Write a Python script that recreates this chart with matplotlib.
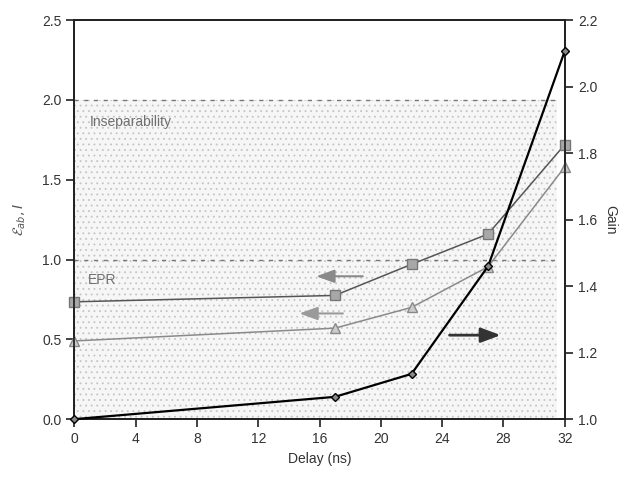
import matplotlib
matplotlib.use("Agg")
import matplotlib.pyplot as plt

plt.rcParams["font.family"] = ["Liberation Sans", "DejaVu Sans"]
plt.rcParams["hatch.linewidth"] = 0.6

# ---------------- DATA ----------------
delay = [0, 17, 22, 27, 32]
ent_sq = [0.735, 0.775, 0.97, 1.16, 1.72]      # squares, left axis
ent_tri = [0.49, 0.57, 0.70, 0.955, 1.58]      # triangles, left axis
gain = [1.0, 1.067, 1.136, 1.46, 2.107]        # diamonds, right axis

x_ticks = [0, 4, 8, 12, 16, 20, 24, 28, 32]
left_ticks = [0.0, 0.5, 1.0, 1.5, 2.0, 2.5]
right_ticks = [1.0, 1.2, 1.4, 1.6, 1.8, 2.0, 2.2]

insep_level = 2.0
epr_level = 1.0

# ---------------- FIGURE ----------------
fig = plt.figure(figsize=(6.31, 4.79), dpi=100)
ax = fig.add_axes([0.118, 0.125, 0.777, 0.833])
ax2 = ax.twinx()

# stippled region below the inseparability bound
ax.fill_between([0, 31.5], 0, insep_level, facecolor="#f6f6f6",
                edgecolor="#c4c4c4", hatch="...", linewidth=0, zorder=0)

ax.plot([0, 31.5], [insep_level, insep_level], ls=(0, (3, 4)), color="#777777", lw=1.0)
ax.plot([0, 31.5], [epr_level, epr_level], ls=(0, (3, 4)), color="#777777", lw=1.0)

ax.text(1.0, 1.86, "Inseparability", color="#6f6f6f", fontsize=10, va="center")
ax.text(0.9, 0.87, "EPR", color="#6f6f6f", fontsize=10, va="center")

ax.plot(delay, ent_sq, color="#555555", lw=1.1, marker="s", ms=6.5,
        mfc="#a8a8a8", mec="#777777", clip_on=False, zorder=4)
ax.plot(delay, ent_tri, color="#8a8a8a", lw=1.1, marker="^", ms=6.5,
        mfc="#cccccc", mec="#888888", clip_on=False, zorder=4)

# direction arrows
ax.annotate("", xy=(15.6, 0.895), xytext=(19.0, 0.895),
            arrowprops=dict(arrowstyle="-|>,head_length=1.1,head_width=0.4",
                            color="#8a8a8a", lw=1.5))
ax.annotate("", xy=(14.5, 0.662), xytext=(17.7, 0.662),
            arrowprops=dict(arrowstyle="-|>,head_length=1.1,head_width=0.4",
                            color="#9a9a9a", lw=1.5))
ax.annotate("", xy=(28.0, 0.526), xytext=(24.3, 0.526),
            arrowprops=dict(arrowstyle="-|>,head_length=1.2,head_width=0.45",
                            color="#333333", lw=2.0))

ax2.plot(delay, gain, color="black", lw=1.6, marker="D", ms=4,
         mfc="#888888", mec="black", clip_on=False, zorder=5)

# ---------------- AXES ----------------
ax.set_xlim(0, 32)
ax.set_ylim(0, 2.5)
ax2.set_ylim(1.0, 2.2)
ax.set_xticks(x_ticks)
ax.set_yticks(left_ticks)
ax.set_yticklabels([f"{v:.1f}" for v in left_ticks])
ax2.set_yticks(right_ticks)
ax2.set_yticklabels([f"{v:.1f}" for v in right_ticks])

for a in (ax, ax2):
    a.tick_params(direction="out", length=6, width=1.3, labelsize=10, colors="#333333")
    for s in a.spines.values():
        s.set_linewidth(1.3)
        s.set_color("#222222")

ax.set_xlabel("Delay (ns)", fontsize=10, color="#333333")
ax.set_ylabel(r"$\mathcal{E}_{ab}, I$", fontsize=10, color="#555555", labelpad=10)
ax2.set_ylabel("Gain", fontsize=10, color="#333333", rotation=270, labelpad=14)

fig.savefig("out.png", dpi=100)
